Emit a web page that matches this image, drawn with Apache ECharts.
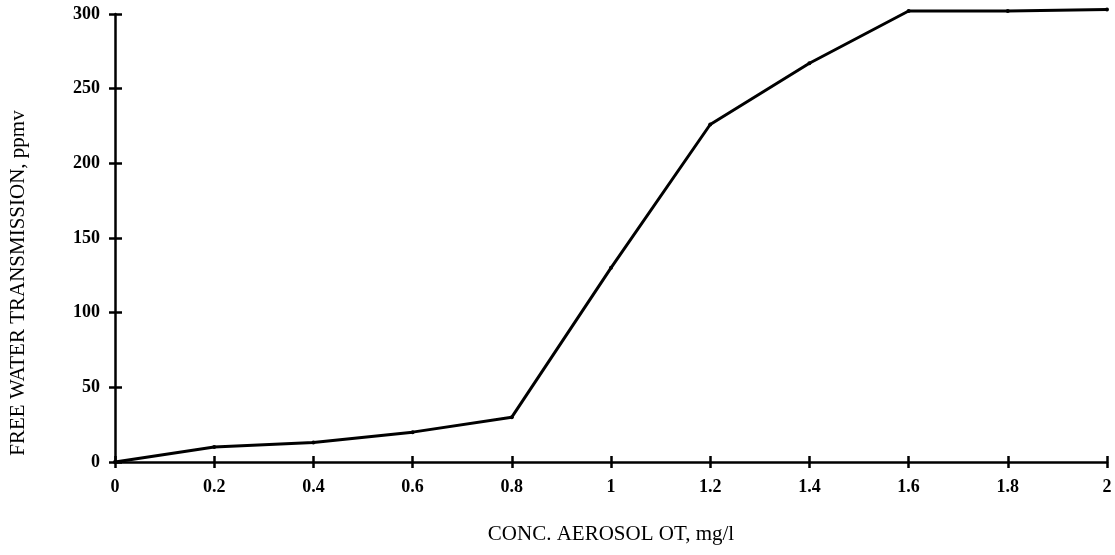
<!DOCTYPE html>
<html>
<head>
<meta charset="utf-8">
<script src="https://cdn.jsdelivr.net/npm/echarts@6/dist/echarts.min.js"></script>
<style>
  html, body { margin: 0; padding: 0; background: #fff; }
  #chart { width: 1115px; height: 555px; }
</style>
</head>
<body>
<div id="chart"></div>
<script>
const concentration = [0, 0.2, 0.4, 0.6, 0.8, 1.0, 1.2, 1.4, 1.6, 1.8, 2.0];
const transmission = [0, 10, 13, 20, 30, 130, 226, 267, 302, 302, 303];
const xTicks = [0, 0.2, 0.4, 0.6, 0.8, 1, 1.2, 1.4, 1.6, 1.8, 2];
const yTicks = [0, 50, 100, 150, 200, 250, 300];

const chart = echarts.init(document.getElementById('chart'));

const labelFont = { fontFamily: 'Liberation Serif', fontWeight: 'bold', fontSize: 18, color: '#000' };
const nameFont = { fontFamily: 'Liberation Serif', fontSize: 21, color: '#000' };
const axisBase = {
    type: 'value',
    splitLine: { show: false },
    axisLine: { show: true, onZero: false, lineStyle: { color: '#000', width: 2.5 } },
    axisTick: { show: true, length: 6, lineStyle: { color: '#000', width: 2.5 } }
};

const option = {
    backgroundColor: '#fff',
    animation: false,
    grid: { left: 115, right: 8, top: 14, bottom: 93, containLabel: false, outerBoundsMode: 'none' },
    xAxis: [
        Object.assign({}, axisBase, {
            min: 0, max: 2, interval: 0.2,
            name: 'CONC. AEROSOL OT, mg/l',
            nameLocation: 'middle',
            nameGap: 62,
            nameTextStyle: nameFont,
            axisLabel: Object.assign({ margin: 16, formatter: v => xTicks.includes(+v.toFixed(1)) ? String(+v.toFixed(1)) : '' }, labelFont)
        }),
        Object.assign({}, axisBase, {
            min: 0, max: 2, interval: 0.2, position: 'bottom',
            axisLine: { show: false },
            axisTick: { show: true, inside: true, length: 6, lineStyle: { color: '#000', width: 2.5 } },
            axisLabel: { show: false }
        })
    ],
    yAxis: [
        Object.assign({}, axisBase, {
            min: 0, max: 300, interval: 50,
            name: 'FREE WATER TRANSMISSION, ppmv',
            nameLocation: 'middle',
            nameGap: 86,
            nameTextStyle: Object.assign({ padding: [0, 90, 0, 0] }, nameFont),
            axisLabel: Object.assign({ margin: 15, formatter: v => yTicks.includes(v) ? String(v) : '' }, labelFont)
        }),
        Object.assign({}, axisBase, {
            min: 0, max: 300, interval: 50, position: 'left',
            axisLine: { show: false },
            axisTick: { show: true, inside: true, length: 7, lineStyle: { color: '#000', width: 2.5 } },
            axisLabel: { show: false }
        })
    ],
    series: [
        {
            type: 'line',
            data: concentration.map((c, i) => [c, transmission[i]]),
            symbol: 'circle',
            symbolSize: 4,
            itemStyle: { color: '#000' },
            lineStyle: { color: '#000', width: 3 },
            clip: false
        }
    ]
};

chart.setOption(option);
</script>
</body>
</html>
